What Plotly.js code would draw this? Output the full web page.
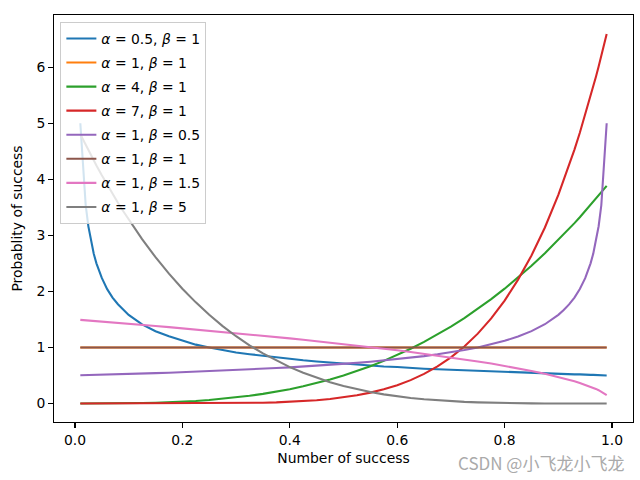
<!DOCTYPE html>
<html><head><meta charset="utf-8">
<script src="https://cdn.plot.ly/plotly-3.0.1.min.js"></script>
<style>html,body{margin:0;padding:0;background:#fff}#chart{width:640px;height:480px}</style>
</head><body><div id="chart"></div>
<script>
const xs = [0.01,0.02,0.025,0.03,0.035,0.04,0.05,0.06,0.07,0.08,0.09,0.1,0.125,0.15,0.175,0.2,0.225,0.25,0.275,0.3,0.325,0.35,0.375,0.4,0.425,0.45,0.475,0.5,0.525,0.55,0.575,0.6,0.625,0.65,0.675,0.7,0.725,0.75,0.775,0.8,0.825,0.85,0.875,0.9,0.91,0.92,0.93,0.94,0.95,0.96,0.965,0.97,0.975,0.98,0.99];
const a05b1 = [5.00,3.54,3.16,2.89,2.67,2.50,2.24,2.04,1.89,1.77,1.67,1.58,1.41,1.29,1.20,1.12,1.05,1.00,0.95,0.91,0.88,0.85,0.82,0.79,0.77,0.75,0.73,0.71,0.69,0.67,0.66,0.65,0.63,0.62,0.61,0.60,0.59,0.58,0.57,0.56,0.55,0.54,0.53,0.53,0.52,0.52,0.52,0.52,0.51,0.51,0.51,0.51,0.51,0.51,0.50];
const a1b1 = [1,1,1,1,1,1,1,1,1,1,1,1,1,1,1,1,1,1,1,1,1,1,1,1,1,1,1,1,1,1,1,1,1,1,1,1,1,1,1,1,1,1,1,1,1,1,1,1,1,1,1,1,1,1,1];
const a4b1 = [0,0,0,0,0,0,0.0005,0.0009,0.0014,0.002,0.003,0.004,0.008,0.0135,0.021,0.032,0.046,0.0625,0.083,0.108,0.137,0.172,0.211,0.256,0.307,0.365,0.429,0.5,0.579,0.666,0.760,0.864,0.977,1.099,1.230,1.372,1.524,1.688,1.862,2.048,2.246,2.456,2.680,2.916,3.014,3.115,3.217,3.322,3.430,3.539,3.595,3.651,3.707,3.765,3.881];
const a7b1 = [0,0,0,0,0,0,0,0,0,0,0,0,0,0,0.0002,0.0004,0.0009,0.0017,0.003,0.0051,0.0084,0.013,0.0196,0.0287,0.041,0.058,0.080,0.109,0.146,0.194,0.253,0.327,0.417,0.528,0.662,0.824,1.017,1.246,1.517,1.835,2.21,2.64,3.14,3.72,3.98,4.24,4.53,4.83,5.15,5.48,5.65,5.83,6.01,6.20,6.59];
const a1b05 = [0.503,0.505,0.506,0.508,0.509,0.510,0.513,0.516,0.518,0.521,0.524,0.527,0.535,0.542,0.550,0.559,0.568,0.577,0.587,0.598,0.609,0.620,0.632,0.645,0.659,0.674,0.690,0.707,0.725,0.745,0.767,0.791,0.816,0.845,0.877,0.913,0.953,1.0,1.054,1.118,1.195,1.291,1.414,1.581,1.667,1.768,1.890,2.041,2.236,2.5,2.673,2.887,3.162,3.536,5.0];
const a1b15 = [1.492,1.485,1.481,1.477,1.474,1.470,1.462,1.454,1.447,1.439,1.431,1.423,1.403,1.383,1.363,1.342,1.321,1.299,1.277,1.255,1.232,1.209,1.186,1.162,1.137,1.112,1.087,1.061,1.034,1.006,0.978,0.949,0.919,0.887,0.855,0.822,0.787,0.75,0.712,0.671,0.627,0.581,0.530,0.474,0.450,0.424,0.397,0.367,0.335,0.300,0.281,0.260,0.237,0.212,0.150];
const a1b5 = [4.803,4.612,4.518,4.426,4.336,4.247,4.073,3.904,3.740,3.582,3.429,3.281,2.931,2.610,2.316,2.048,1.804,1.582,1.381,1.200,1.038,0.893,0.763,0.648,0.547,0.458,0.380,0.313,0.255,0.205,0.163,0.128,0.099,0.075,0.056,0.041,0.029,0.020,0.013,0.008,0.005,0.0025,0.0012,0.0005,0.0003,0.0002,0.0001,0.0001,0,0,0,0,0,0,0];
const labels = ["<i>α</i> = 0.5, <i>β</i> = 1","<i>α</i> = 1, <i>β</i> = 1","<i>α</i> = 4, <i>β</i> = 1","<i>α</i> = 7, <i>β</i> = 1","<i>α</i> = 1, <i>β</i> = 0.5","<i>α</i> = 1, <i>β</i> = 1","<i>α</i> = 1, <i>β</i> = 1.5","<i>α</i> = 1, <i>β</i> = 5"];
const series = [a05b1,a1b1,a4b1,a7b1,a1b05,a1b1,a1b15,a1b5];
const colors = ["#1f77b4","#ff7f0e","#2ca02c","#d62728","#9467bd","#8c564b","#e377c2","#7f7f7f"];
const xTicks = [0,0.2,0.4,0.6,0.8,1.0];
const xTickText = ["0.0","0.2","0.4","0.6","0.8","1.0"];
const yTicks = [0,1,2,3,4,5,6];

const traces = series.map((ys,i)=>({x:xs,y:ys,type:'scatter',mode:'lines',name:labels[i],legendgroup:'g'+i,line:{color:colors[i],width:2.08}}));
const font = {family:'DejaVu Sans', size:13.9, color:'#000'};
const axisCommon = {showline:true, mirror:true, linecolor:'#000', linewidth:1.1, ticks:'outside', ticklen:4.9, tickwidth:1.1, tickcolor:'#000', showgrid:false, zeroline:false, tickfont:font, automargin:false};
const layout = {
  width:640, height:480, paper_bgcolor:'#fff', plot_bgcolor:'#fff', font:font,
  margin:{l:53.5, r:7, t:15, b:58},
  xaxis: Object.assign({}, axisCommon, {range:[-0.039,1.039], tickvals:xTicks, ticktext:xTickText, title:{text:'Number of success', font:font, standoff:6}}),
  yaxis: Object.assign({}, axisCommon, {range:[-0.33,6.93], tickvals:yTicks, title:{text:'Probablity of success', font:font, standoff:10}}),
  showlegend:true,
  legend:{x:0.011, y:0.983, xanchor:'left', yanchor:'top', bgcolor:'rgba(255,255,255,0.8)', bordercolor:'#cccccc', borderwidth:1, font:font, tracegroupgap:3.0},
  annotations:[{text:'CSDN @小飞龙小飞龙', xref:'paper', yref:'paper', x:1.0, y:-0.1007, xanchor:'right', yanchor:'middle', showarrow:false, xshift:-7, font:{family:'Noto Sans CJK SC', size:17, color:'#aaaaaa'}}]
};
Plotly.newPlot('chart', traces, layout, {staticPlot:true});
</script></body></html>
